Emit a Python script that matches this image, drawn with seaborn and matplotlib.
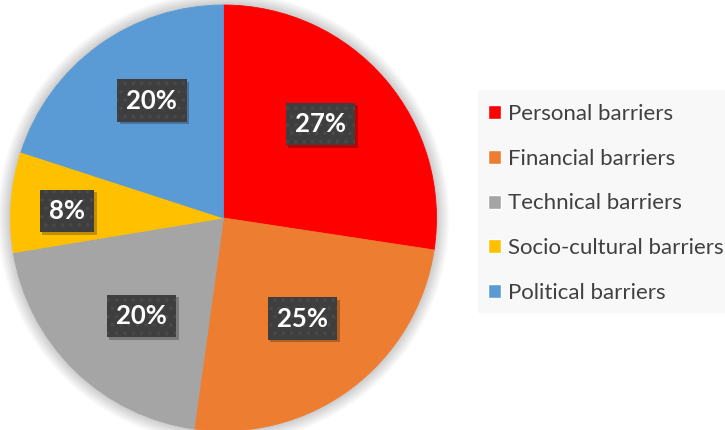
import matplotlib
matplotlib.use("Agg")
import matplotlib.pyplot as plt
from matplotlib.patches import Circle, Rectangle
import numpy as np
import seaborn as sns

categories = ["Personal barriers", "Financial barriers", "Technical barriers",
              "Socio-cultural barriers", "Political barriers"]
values = [27.4, 24.8, 20.2, 7.6, 20.0]
colors = ["#FF0000", "#ED7D31", "#A5A5A5", "#FFC000", "#5B9BD5"]
# label placement (style): radial distance and small angular nudge (deg)
label_dist = [0.635, 0.60, 0.60, 0.735, 0.645]
label_nudge = [3.4, 1.4, 4.3, 1.7, -4.6]

sns.set_theme(style="white")
plt.rcParams["font.family"] = ["Lato", "DejaVu Sans"]
plt.rcParams["hatch.linewidth"] = 1.4

W, H = 725, 430
fig = plt.figure(figsize=(W / 100, H / 100), dpi=100)
cx, cy, r = 223.5, 218, 213
ax = fig.add_axes([(cx - r) / W, (H - cy - r) / H, 2 * r / W, 2 * r / H])

# soft outer glow of the pie
for k in range(10):
    ax.add_patch(Circle((0, 0), 1 + 0.006 * (k + 1), facecolor="black", edgecolor="none",
                        alpha=0.02, zorder=0, clip_on=False))

palette = sns.color_palette(colors)
wedges, _ = ax.pie(values, colors=palette, startangle=90, counterclock=False,
                   radius=1, wedgeprops=dict(linewidth=0.6, zorder=2))
for w in wedges:
    w.set_edgecolor(w.get_facecolor())
ax.set_xlim(-1, 1)
ax.set_ylim(-1, 1)
ax.set_aspect("equal")
ax.axis("off")

labels = []
for w, v, d, nd in zip(wedges, values, label_dist, label_nudge):
    ang = np.deg2rad((w.theta1 + w.theta2) / 2 + nd)
    x, y = d * np.cos(ang), d * np.sin(ang)
    t = ax.text(x, y, f"{round(v)}%", ha="center", va="center", color="white",
                fontsize=18.5, fontweight="bold", zorder=4,
                bbox=dict(boxstyle="square,pad=0.36", facecolor="#3E3E3E",
                          edgecolor="#494949", linewidth=0, hatch=".."))
    labels.append(t)

# drop shadows under the label boxes, sized from the drawn boxes
fig.canvas.draw()
inv = fig.transFigure.inverted()
for t in labels:
    bb = t.get_bbox_patch().get_window_extent()
    (x0, y0), (x1, y1) = inv.transform([(bb.x0 + 2.5, bb.y0 - 2.5), (bb.x1 + 2.5, bb.y1 - 2.5)])
    fig.patches.append(Rectangle((x0, y0), x1 - x0, y1 - y0, transform=fig.transFigure,
                                 facecolor="black", alpha=0.25, edgecolor="none", zorder=3))
    t.set_zorder(5)
    t.remove()
    fig.texts.append(t)
    t.set_figure(fig)

# legend background panel
fig.patches.append(Rectangle((477.7 / W, 1 - 313 / H), (W - 477.7) / W, (313 - 90) / H,
                             transform=fig.transFigure, facecolor="#F8F8F8",
                             edgecolor="none", zorder=0))

handles = [plt.Rectangle((0, 0), 1, 1, facecolor=c) for c in colors]
leg = fig.legend(handles, categories, loc="center left",
                 bbox_to_anchor=(487.7 / W, 1 - 203.5 / H), frameon=False,
                 fontsize=16, labelspacing=1.11, handlelength=0.6, handleheight=0.6,
                 handletextpad=0.3, borderpad=0, borderaxespad=0)
for txt in leg.get_texts():
    txt.set_color("#404040")

fig.savefig("out.png", dpi=100)
